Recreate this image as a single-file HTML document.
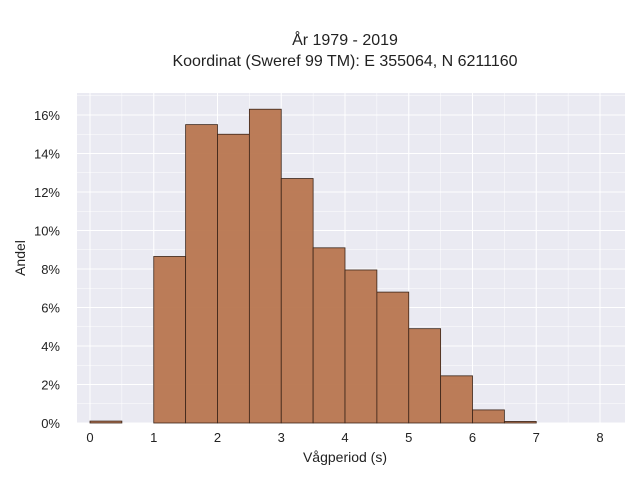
<!DOCTYPE html>
<html><head><meta charset="utf-8"><style>
body{margin:0;background:#fff;font-family:"Liberation Sans",sans-serif;}
</style></head><body>
<svg width="640" height="480" xmlns="http://www.w3.org/2000/svg" font-family="Liberation Sans, sans-serif">
<text x="345" y="45" text-anchor="middle" font-size="16" fill="#222">År 1979 - 2019</text>
<text x="345" y="66" text-anchor="middle" font-size="16" fill="#222">Koordinat (Sweref 99 TM): E 355064, N 6211160</text>
<rect x="77" y="93" width="548" height="330" fill="#eaeaf2"/>
<g id="grid"></g>
<g id="bars"></g>
<g id="ticks" font-size="13" fill="#222"></g>
<text x="345" y="462" text-anchor="middle" font-size="14" fill="#222">Vågperiod (s)</text>
<text x="25" y="258" text-anchor="middle" font-size="14" fill="#222" transform="rotate(-90 25 258)">Andel</text>
</svg>
<script>
const binStarts=[0,0.5,1,1.5,2,2.5,3,3.5,4,4.5,5,5.5,6,6.5];
const binValues=[0.1,0,8.65,15.5,15.0,16.3,12.7,9.1,7.95,6.8,4.9,2.45,0.68,0.08];
const xTicks=[0,1,2,3,4,5,6,7,8];
const yTicks=[0,2,4,6,8,10,12,14,16];
const binWidth=0.5;
const ns="http://www.w3.org/2000/svg";
const X=v=>90+v*63.75, Y=v=>423-v*19.25;
const grid=document.getElementById('grid'),bars=document.getElementById('bars'),ticks=document.getElementById('ticks');
function mk(t,a,p){const e=document.createElementNS(ns,t);for(const k in a)e.setAttribute(k,a[k]);p.appendChild(e);return e;}
xTicks.forEach(t=>{const l=mk('line',{x1:X(t),x2:X(t),y1:93,y2:423,stroke:'#fff','stroke-width':1},grid);

const m=mk('line',{x1:X(t+0.5),x2:X(t+0.5),y1:93,y2:423,stroke:'#fff','stroke-width':0.5},grid);

const tx=mk('text',{x:X(t),y:442,'text-anchor':'middle'},ticks);tx.textContent=t;
});
yTicks.forEach(t=>{const l=mk('line',{x1:77,x2:625,y1:Y(t),y2:Y(t),stroke:'#fff','stroke-width':1},grid);

const m=mk('line',{x1:77,x2:625,y1:Y(t+1),y2:Y(t+1),stroke:'#fff','stroke-width':0.5},grid);

const tx=mk('text',{x:60,y:Y(t)+5,'text-anchor':'end'},ticks);tx.textContent=t+'%';
});
binStarts.forEach((s,i)=>{const v=binValues[i];if(v<=0)return;
const r=mk('rect',{x:X(s),y:Y(v),width:X(s+binWidth)-X(s),height:Y(0)-Y(v),fill:'#b8764f','fill-opacity':0.95,stroke:'#3a2418','stroke-width':0.8},bars);
});
</script>
</body></html>
